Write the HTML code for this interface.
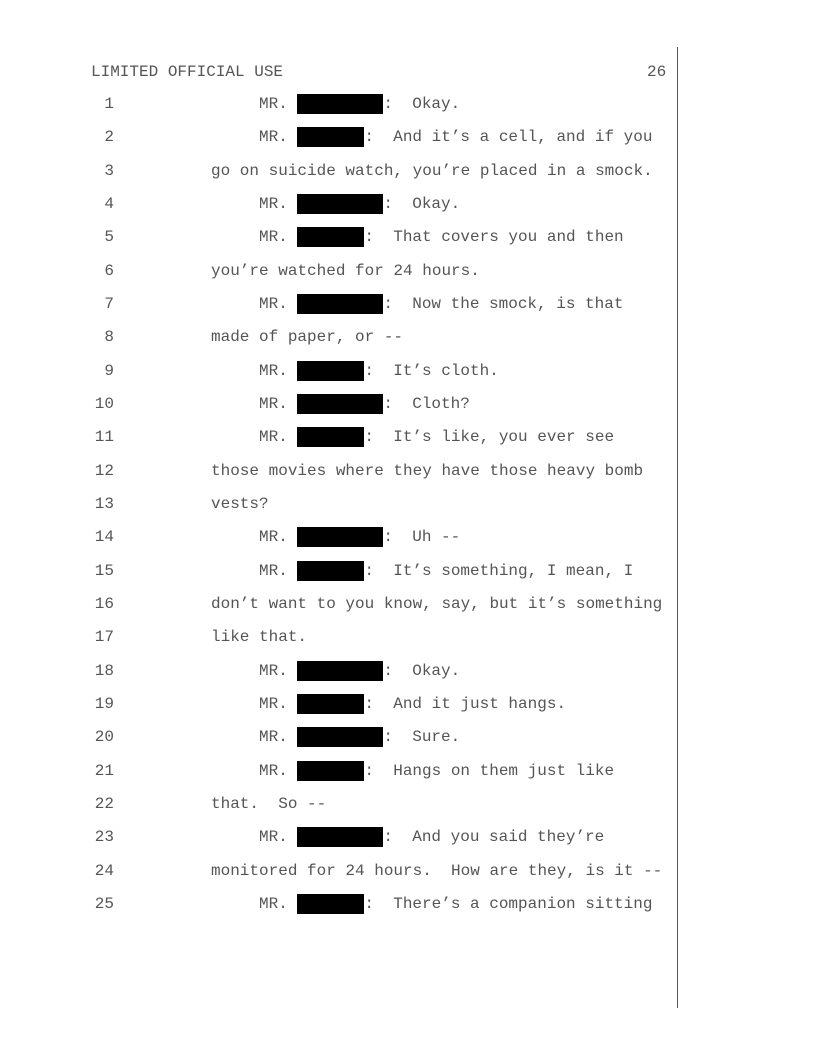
<!DOCTYPE html>
<html><head><meta charset="utf-8"><style>
html,body{margin:0;padding:0;background:#fff;}
body{width:816px;height:1056px;position:relative;overflow:hidden;font-family:"Liberation Mono",monospace;font-size:16px;color:#555;}
.w{position:absolute;left:0;top:1px;width:816px;height:1056px;}
.l{position:absolute;height:20px;line-height:20px;white-space:pre;}
.n{position:absolute;width:40px;left:74px;text-align:right;height:20px;line-height:20px;}
.b{display:inline-block;background:#000;height:20px;vertical-align:top;}
.L{width:86px}.S{width:67px}
</style></head><body>
<div class="w">
<div class="l" style="left:91px;top:61px">LIMITED OFFICIAL USE</div>
<div class="l" style="left:647px;top:61px">26</div>
<div style="position:absolute;left:677px;top:46px;width:1px;height:961px;background:#555"></div>

<div class="n" style="top:93px">1</div><div class="l" style="left:259px;top:93px">MR. <span class="b L"></span>:  Okay.</div>
<div class="n" style="top:126px">2</div><div class="l" style="left:259px;top:126px">MR. <span class="b S"></span>:  And it’s a cell, and if you</div>
<div class="n" style="top:160px">3</div><div class="l" style="left:211px;top:160px">go on suicide watch, you’re placed in a smock.</div>
<div class="n" style="top:193px">4</div><div class="l" style="left:259px;top:193px">MR. <span class="b L"></span>:  Okay.</div>
<div class="n" style="top:226px">5</div><div class="l" style="left:259px;top:226px">MR. <span class="b S"></span>:  That covers you and then</div>
<div class="n" style="top:260px">6</div><div class="l" style="left:211px;top:260px">you’re watched for 24 hours.</div>
<div class="n" style="top:293px">7</div><div class="l" style="left:259px;top:293px">MR. <span class="b L"></span>:  Now the smock, is that</div>
<div class="n" style="top:326px">8</div><div class="l" style="left:211px;top:326px">made of paper, or --</div>
<div class="n" style="top:360px">9</div><div class="l" style="left:259px;top:360px">MR. <span class="b S"></span>:  It’s cloth.</div>
<div class="n" style="top:393px">10</div><div class="l" style="left:259px;top:393px">MR. <span class="b L"></span>:  Cloth?</div>
<div class="n" style="top:426px">11</div><div class="l" style="left:259px;top:426px">MR. <span class="b S"></span>:  It’s like, you ever see</div>
<div class="n" style="top:460px">12</div><div class="l" style="left:211px;top:460px">those movies where they have those heavy bomb</div>
<div class="n" style="top:493px">13</div><div class="l" style="left:211px;top:493px">vests?</div>
<div class="n" style="top:526px">14</div><div class="l" style="left:259px;top:526px">MR. <span class="b L"></span>:  Uh --</div>
<div class="n" style="top:560px">15</div><div class="l" style="left:259px;top:560px">MR. <span class="b S"></span>:  It’s something, I mean, I</div>
<div class="n" style="top:593px">16</div><div class="l" style="left:211px;top:593px">don’t want to you know, say, but it’s something</div>
<div class="n" style="top:626px">17</div><div class="l" style="left:211px;top:626px">like that.</div>
<div class="n" style="top:660px">18</div><div class="l" style="left:259px;top:660px">MR. <span class="b L"></span>:  Okay.</div>
<div class="n" style="top:693px">19</div><div class="l" style="left:259px;top:693px">MR. <span class="b S"></span>:  And it just hangs.</div>
<div class="n" style="top:726px">20</div><div class="l" style="left:259px;top:726px">MR. <span class="b L"></span>:  Sure.</div>
<div class="n" style="top:760px">21</div><div class="l" style="left:259px;top:760px">MR. <span class="b S"></span>:  Hangs on them just like</div>
<div class="n" style="top:793px">22</div><div class="l" style="left:211px;top:793px">that.  So --</div>
<div class="n" style="top:826px">23</div><div class="l" style="left:259px;top:826px">MR. <span class="b L"></span>:  And you said they’re</div>
<div class="n" style="top:860px">24</div><div class="l" style="left:211px;top:860px">monitored for 24 hours.  How are they, is it --</div>
<div class="n" style="top:893px">25</div><div class="l" style="left:259px;top:893px">MR. <span class="b S"></span>:  There’s a companion sitting</div>
</div>
</body></html>
